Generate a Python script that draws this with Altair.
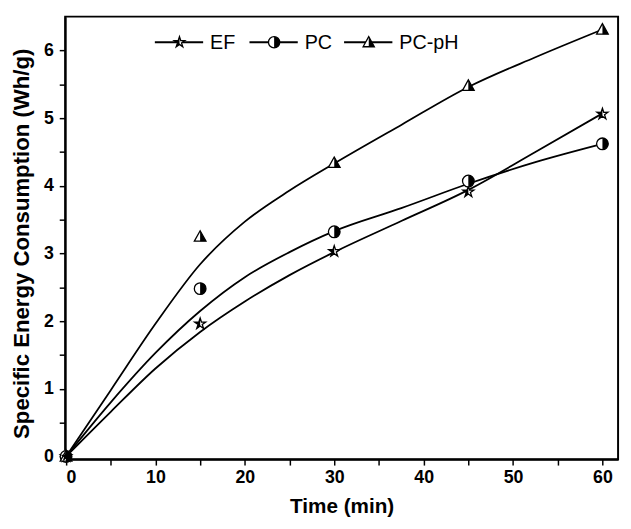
import altair as alt
import pandas as pd

# measured points
time = [0, 15, 30, 45, 60]
ef = [0, 1.96, 3.03, 3.91, 5.06]
pc = [0, 2.48, 3.32, 4.07, 4.62]
pcph = [0, 3.25, 4.34, 5.48, 6.31]

# fitted curves
fit_time = [0, 5, 10, 15, 20, 25, 30, 37.5, 45, 52.5, 60]
ef_fit = [0, 0.66, 1.30, 1.84, 2.29, 2.68, 3.02, 3.48, 3.94, 4.50, 5.07]
pc_fit = [0, 0.80, 1.53, 2.15, 2.65, 3.02, 3.33, 3.67, 4.03, 4.35, 4.62]
pcph_fit = [0, 0.98, 1.96, 2.84, 3.47, 3.93, 4.33, 4.90, 5.46, 5.90, 6.31]

series = ["EF", "PC", "PC-pH"]

pts = pd.DataFrame(
    [{"t": t, "v": v, "s": s} for s, vals in zip(series, [ef, pc, pcph]) for t, v in zip(time, vals)]
)
fit = pd.DataFrame(
    [{"t": t, "v": v, "s": s} for s, vals in zip(series, [ef_fit, pc_fit, pcph_fit]) for t, v in zip(fit_time, vals)]
)
leg = pd.DataFrame({"s": series, "i": list(range(len(series)))})

FONT = "Liberation Sans"

STAR = "M0,-1L0.223,-0.307L0.951,-0.309L0.361,0.117L0.588,0.809L0,0.38L-0.588,0.809L-0.361,0.117L-0.951,-0.309L-0.223,-0.307Z"
STAR_HALF = "M0,-1L0,0.38L-0.588,0.809L-0.361,0.117L-0.951,-0.309L-0.223,-0.307Z"
CIRCLE = "M1,0A1,1 0 1,1 -1,0A1,1 0 1,1 1,0Z"
CIRCLE_HALF = "M0,-1A1,1 0 0,1 0,1Z"
TRI = "M0,-1L1,0.8L-1,0.8Z"
TRI_HALF = "M0,-1L1,0.8L0,0.8Z"

base_shapes = alt.Scale(domain=series, range=[STAR, CIRCLE, TRI])
half_shapes = alt.Scale(domain=series, range=[STAR_HALF, CIRCLE_HALF, TRI_HALF])

xscale = alt.Scale(domain=[-0.1, 61.75], nice=False, zero=False)
yscale = alt.Scale(domain=[-0.04, 6.5], nice=False, zero=False)

x_axis = alt.Axis(
    values=list(range(0, 61, 5)),
    labelExpr="datum.value % 10 == 0 ? format(datum.value, 'd') : ''",
    title="Time (min)",
    grid=False,
    labelFont=FONT, labelFontSize=18, labelFontWeight="bold", labelColor="black",
    titleFont=FONT, titleFontSize=21, titleFontWeight="bold", titleColor="black",
    tickColor="black", tickSize=6, tickWidth=1.5,
    domainColor="black", domainWidth=2,
    labelPadding=4, titlePadding=9,
)
y_axis = alt.Axis(
    values=[i * 0.5 for i in range(13)],
    labelExpr="datum.value % 1 == 0 ? format(datum.value, 'd') : ''",
    title="Specific Energy Consumption (Wh/g)",
    grid=False,
    labelFont=FONT, labelFontSize=18, labelFontWeight="bold", labelColor="black",
    titleFont=FONT, titleFontSize=22.5, titleFontWeight="bold", titleColor="black",
    tickColor="black", tickSize=6, tickWidth=1.5,
    domainColor="black", domainWidth=2,
    labelPadding=6, titlePadding=10, titleY=230,
)

X = alt.X("t:Q", scale=xscale, axis=x_axis)
Y = alt.Y("v:Q", scale=yscale, axis=y_axis)

lines = alt.Chart(fit).mark_line(color="black", strokeWidth=1.8, interpolate="monotone", clip=True).encode(
    x=X, y=Y, detail="s:N"
)
marks_base = alt.Chart(pts).mark_point(filled=True, fill="white", stroke="black", strokeWidth=1.3, size=140, opacity=1).encode(
    x=X, y=Y, shape=alt.Shape("s:N", scale=base_shapes, legend=None)
)
marks_half = alt.Chart(pts).mark_point(filled=True, fill="black", strokeWidth=0, size=140, opacity=1).encode(
    x=X, y=Y, shape=alt.Shape("s:N", scale=half_shapes, legend=None)
)

# custom legend (pixel positions computed from entry index)
legb = alt.Chart(leg).transform_calculate(
    x1="91 + datum.i * 96", x2="140 + datum.i * 96", mx="116 + datum.i * 96", tx="147 + datum.i * 96"
)
leg_line = legb.mark_rule(color="black", strokeWidth=1.8).encode(
    x=alt.X("x1:Q", scale=None), x2="x2:Q", y=alt.value(26)
)
leg_base = legb.mark_point(filled=True, fill="white", stroke="black", strokeWidth=1.3, size=130, opacity=1).encode(
    x=alt.X("mx:Q", scale=None), y=alt.value(26),
    shape=alt.Shape("s:N", scale=base_shapes, legend=None),
)
leg_half = legb.mark_point(filled=True, fill="black", strokeWidth=0, size=130, opacity=1).encode(
    x=alt.X("mx:Q", scale=None), y=alt.value(26),
    shape=alt.Shape("s:N", scale=half_shapes, legend=None),
)
leg_text = legb.mark_text(align="left", baseline="middle", font=FONT, fontSize=20, color="black", dy=1).encode(
    x=alt.X("tx:Q", scale=None), y=alt.value(26), text="s:N"
)

base_layer = alt.layer(lines, marks_base, leg_line, leg_base)
half_layer = alt.layer(marks_half, leg_half, leg_text)

chart = alt.layer(base_layer, half_layer).resolve_scale(shape="independent").properties(
    width=561, height=449,
    autosize=alt.AutoSizeParams(type="none"),
    padding={"left": 58, "top": 5, "right": 5, "bottom": 60},
    background="white",
).configure_view(stroke="black", strokeWidth=2)

chart.save("out.html", embed_options={"renderer": "svg", "actions": False})
